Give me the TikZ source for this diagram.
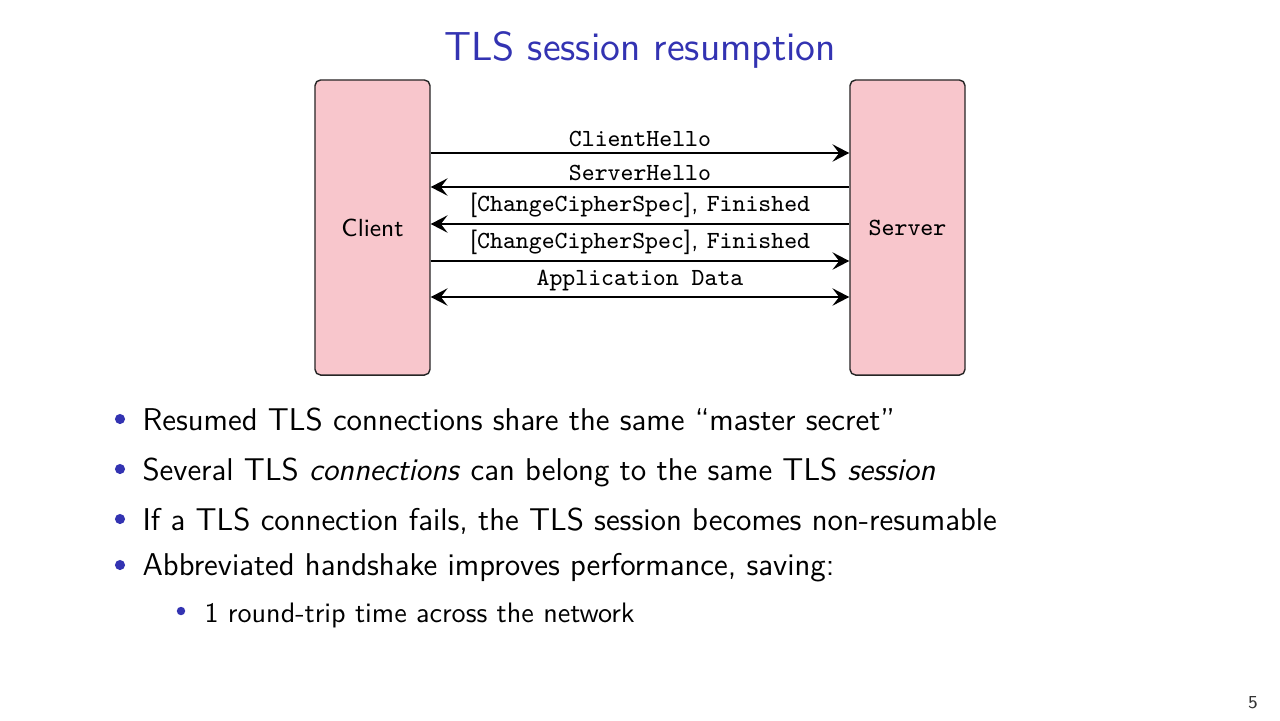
\documentclass[tikz,border=0pt]{standalone}
\usepackage{fontspec}
\usetikzlibrary{arrows.meta,calc}
\renewcommand{\familydefault}{\sfdefault}
\definecolor{Structure}{rgb}{0.2,0.2,0.7}
\definecolor{PartyPink}{HTML}{F8C6CC}

\begin{document}
\begin{tikzpicture}[x=0.0125cm,y=-0.0125cm,
    partybox/.style={draw=black!85,fill=PartyPink,rounded corners=2pt,line width=.5pt,
      minimum width=1.4375cm,minimum height=3.6875cm,font=\fontsize{8.8}{10}\selectfont},
    msgarrow/.style={line width=.5pt,>={Stealth[length=6pt,width=6.2pt,inset=2.4pt]}},
    msglabel/.style={above,inner sep=1.9pt,font=\fontsize{8.75}{10}\selectfont},
    itemtext/.style={anchor=base west,inner sep=0pt,font=\fontsize{11.2}{13}\selectfont},
    subtext/.style={anchor=base west,inner sep=0pt,font=\fontsize{10}{12}\selectfont}]
    \fill[white] (0,0) rectangle (1280,720);
    \useasboundingbox (0,0) rectangle (1280,720);
    \node[font=\fontsize{14.4}{17}\selectfont,text=Structure,anchor=base] (title) at (640,60) {TLS session resumption};
    % the two parties
    \node[partybox] (client) at (372.5,227.5) {Client};
    \node[partybox] (server) at (907.5,227.5) {\texttt{Server}};
    % abbreviated handshake
    \draw[msgarrow,->] ($(client.east)+(0,-74.5)$) -- node[msglabel]{\texttt{ClientHello}} ($(server.west)+(0,-74.5)$);
    \draw[msgarrow,<-] ($(client.east)+(0,-40.5)$) -- node[msglabel]{\texttt{ServerHello}} ($(server.west)+(0,-40.5)$);
    \draw[msgarrow,<-] ($(client.east)+(0,-3.5)$) -- node[msglabel]{[\texttt{ChangeCipherSpec}], \texttt{Finished}} ($(server.west)+(0,-3.5)$);
    \draw[msgarrow,->] ($(client.east)+(0,33.5)$) -- node[msglabel]{[\texttt{ChangeCipherSpec}], \texttt{Finished}} ($(server.west)+(0,33.5)$);
    \draw[msgarrow,<->] ($(client.east)+(0,69.5)$) -- node[msglabel]{\texttt{Application Data}} ($(server.west)+(0,69.5)$);
    % bullet list
    \foreach \by in {419,469,519,565} \fill[Structure] (120,\by) circle (1.8pt);
    \fill[Structure] (181,611) circle (1.5pt);
    \node[itemtext] (item1) at (142,430) {Resumed TLS connections share the same “master secret”};
    \node[itemtext] (item2) at (142,480) {Several TLS \textit{connections} can belong to the same TLS \textit{session}};
    \node[itemtext] (item3) at (142,530) {If a TLS connection fails, the TLS session becomes non-resumable};
    \node[itemtext] (item4) at (142,575) {Abbreviated handshake improves performance, saving:};
    \node[subtext] (item5) at (204,622) {1 round-trip time across the network};
    \node[font=\fontsize{6.5}{7}\selectfont,text=black!80,anchor=base] (pageno) at (1253,708) {5};
  \end{tikzpicture}
\end{document}
